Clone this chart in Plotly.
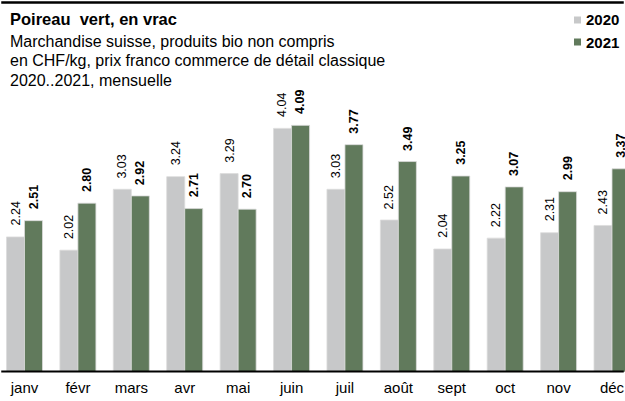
import plotly.graph_objects as go

months = ["janv", "févr", "mars", "avr", "mai", "juin", "juil", "août", "sept", "oct", "nov", "déc"]
series_names = ["2020", "2021"]
values_2020 = [2.24, 2.02, 3.03, 3.24, 3.29, 4.04, 3.03, 2.52, 2.04, 2.22, 2.31, 2.43]
values_2021 = [2.51, 2.80, 2.92, 2.71, 2.70, 4.09, 3.77, 3.49, 3.25, 3.07, 2.99, 3.37]
colors = ["#c7c8c9", "#617a5c"]

title = "Poireau  vert, en vrac"
subtitle_lines = [
    "Marchandise suisse, produits bio non compris",
    "en CHF/kg, prix franco commerce de détail classique",
    "2020..2021, mensuelle",
]

FONT = "Liberation Sans, Arial, sans-serif"
W, H = 625, 401
px_per_unit = 60.3
bottom_margin = 29
plot_h = H - bottom_margin

fig = go.Figure()
all_vals = [values_2020, values_2021]
for name, vals, col in zip(series_names, all_vals, colors):
    fig.add_trace(go.Bar(
        x=months, y=vals, name=name,
        marker=dict(color=col, line=dict(color="#dcdcdc", width=0.8)),
        showlegend=False, hoverinfo="skip",
    ))

annotations = []
# value labels (2020 regular, 2021 bold)
for k, (vals, shift) in enumerate(zip(all_vals, [-9, 9])):
    for m, v in zip(months, vals):
        txt = f"{v:.2f}" if k == 0 else f"<b>{v:.2f}</b>"
        annotations.append(dict(
            x=m, y=v, xref="x", yref="y", text=txt,
            textangle=-90, showarrow=False, xanchor="center", yanchor="bottom",
            xshift=shift, yshift=9,
            font=dict(family=FONT, size=12.5, color="#000000"),
        ))

def py(pix):
    return 1 - pix / plot_h

# title and subtitle
annotations.append(dict(
    x=8 / W, y=py(19), xref="paper", yref="paper", text=f"<b>{title}</b>",
    showarrow=False, xanchor="left", yanchor="middle",
    font=dict(family=FONT, size=16.5, color="#000000"),
))
for i, line in enumerate(subtitle_lines):
    annotations.append(dict(
        x=8 / W, y=py(41 + 19.5 * i), xref="paper", yref="paper", text=line,
        showarrow=False, xanchor="left", yanchor="middle",
        font=dict(family=FONT, size=16, color="#000000"),
    ))

shapes = [
    # top rule
    dict(type="line", xref="paper", yref="paper", x0=0.002, x1=0.998,
         y0=py(2.5), y1=py(2.5), layer="above",
         line=dict(color="#000000", width=2.5)),
    # baseline
    dict(type="line", xref="paper", yref="paper", x0=0.002, x1=0.998,
         y0=py(plot_h - 0.5), y1=py(plot_h - 0.5), layer="above",
         line=dict(color="#000000", width=2)),
]
# manual legend
for i, (name, col) in enumerate(zip(series_names, colors)):
    yc = 20 + 22 * i
    shapes.append(dict(type="rect", xref="paper", yref="paper",
                       x0=574 / W, x1=581 / W, y0=py(yc - 3.5), y1=py(yc + 3.5),
                       fillcolor=col, line=dict(width=0)))
    annotations.append(dict(
        x=584 / W, y=py(yc), xref="paper", yref="paper", text=f"<b>{name}</b>",
        showarrow=False, xanchor="left", yanchor="middle",
        font=dict(family=FONT, size=15, color="#000000"),
    ))

# x range chosen so category centres sit at measured pixel positions
x0 = -24.5 / 53.41
x1 = x0 + W / 53.41

fig.update_layout(
    width=W, height=H,
    margin=dict(l=0, r=0, t=0, b=bottom_margin, pad=0),
    paper_bgcolor="white", plot_bgcolor="white",
    barmode="group", bargap=0.326, bargroupgap=0,
    annotations=annotations, shapes=shapes,
    font=dict(family=FONT, color="#000000"),
    xaxis=dict(
        type="category", range=[x0, x1], showgrid=False, zeroline=False,
        showline=False, ticks="",
        ticklabelstandoff=5,
        tickfont=dict(family=FONT, size=15, color="#000000"),
    ),
    yaxis=dict(range=[0, plot_h / px_per_unit], visible=False, showgrid=False, zeroline=False),
)

fig.write_html(
    "out.html",
    config={"displayModeBar": False, "staticPlot": True},
    post_script="document.body.style.margin='0';document.body.style.overflow='hidden';",
)
